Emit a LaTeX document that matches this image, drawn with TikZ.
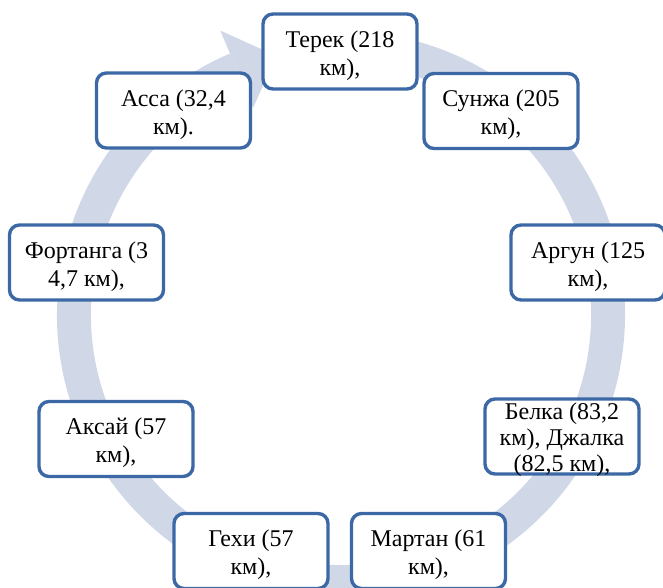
\documentclass[tikz,border=0pt]{standalone}
\usepackage{fontspec}
\setmainfont{Liberation Serif}
\newfontfamily\rserif{Liberation Serif}
\usetikzlibrary{calc}
\definecolor{bandcol}{RGB}{208,216,232}
\definecolor{boxcol}{RGB}{60,105,165}
\tikzset{
  rbox/.style={draw=boxcol, line width=3.4pt, fill=white, rounded corners=10pt,
    minimum width=154pt, minimum height=75pt, inner sep=0pt},
  txt/.style={align=center, inner sep=0pt, text=black,
    font=\rserif\fontsize{24}{28}\selectfont},
  band/.style={fill=bandcol, draw=none}
}
\begin{document}
\begin{tikzpicture}[x=1pt,y=1pt]
\useasboundingbox (0,0) rectangle (663,587);
\coordinate (c) at (341,272);
% circular arrow
\fill[band] ($(c)+(80:284)$) arc[start angle=80, end angle=-247, radius=284]
  -- ($(c)+(-247:250)$) arc[start angle=-247, end angle=80, radius=250] -- cycle;
\fill[band] ($(c)+(113:225)$) -- ($(c)+(113:309)$) -- ($(c)+(104:267)$) -- cycle;
% boxes
\node[rbox] (terek)  at (340,535.5) {};
\node[rbox] (sunzha) at (501,476) {};
\node[rbox] (argun)  at (588,324.5) {};
\node[rbox] (belka)  at (562,150.5) {};
\node[rbox] (martan) at (428.5,36) {};
\node[rbox] (gekhi)  at (251,36) {};
\node[rbox] (aksai)  at (116,148) {};
\node[rbox] (fort)   at (86.5,324.5) {};
\node[rbox] (assa)   at (173.5,476.5) {};
% texts
\node[txt] (terekT)  at ([yshift=-4pt]terek.center)  {Терек (218\\км),};
\node[txt] (sunzhaT) at ([yshift=-4pt]sunzha.center) {Сунжа (205\\км),};
\node[txt] (argunT)  at ([yshift=-4pt]argun.center)  {Аргун (125\\км),};
\node[txt, font=\rserif\fontsize{24}{26}\selectfont] (belkaT) at ([yshift=-3pt]belka.center) {Белка (83,2\\км), Джалка\\(82,5 км),};
\node[txt] (martanT) at ([yshift=-4pt]martan.center) {Мартан (61\\км),};
\node[txt] (gekhiT)  at ([yshift=-4pt]gekhi.center)  {Гехи (57\\км),};
\node[txt] (aksaiT)  at ([yshift=-4pt]aksai.center)  {Аксай (57\\км),};
\node[txt] (fortT)   at ([yshift=-4pt]fort.center)   {Фортанга (3\\4,7 км),};
\node[txt] (assaT)   at ([yshift=-4pt]assa.center)   {Асса (32,4\\км).};
\end{tikzpicture}
\end{document}
